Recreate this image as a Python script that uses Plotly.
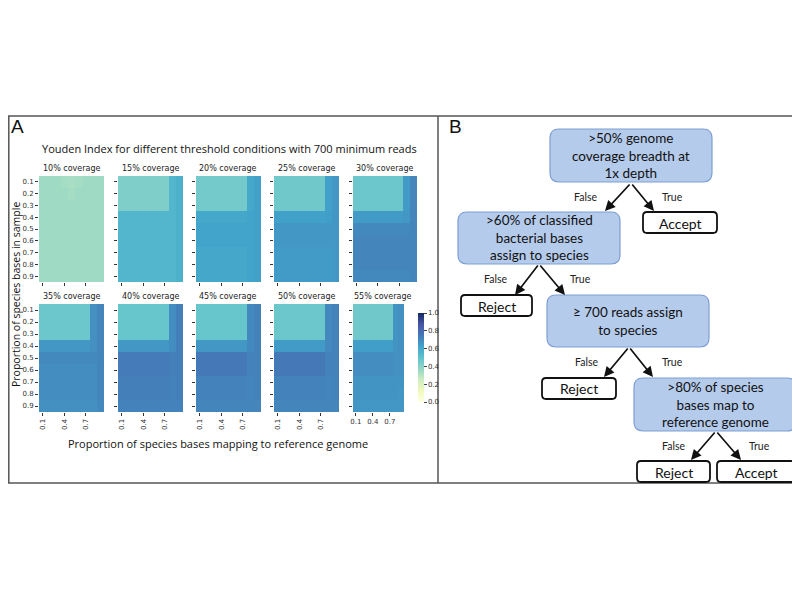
import plotly.graph_objects as go

# ---------------- data ----------------
props = [0.1, 0.2, 0.3, 0.4, 0.5, 0.6, 0.7, 0.8, 0.9]
x_ticks = [0.1, 0.4, 0.7]
y_ticks = [0.1, 0.2, 0.3, 0.4, 0.5, 0.6, 0.7, 0.8, 0.9]
coverage_labels = ["10% coverage", "15% coverage", "20% coverage", "25% coverage", "30% coverage",
                   "35% coverage", "40% coverage", "45% coverage", "50% coverage", "55% coverage"]

yi_10 = [
    [0.35, 0.35, 0.35, 0.34, 0.33, 0.34, 0.35, 0.35, 0.35],
    [0.35, 0.35, 0.35, 0.35, 0.34, 0.35, 0.35, 0.35, 0.35],
    [0.35, 0.35, 0.35, 0.35, 0.35, 0.35, 0.35, 0.35, 0.35],
    [0.35, 0.35, 0.35, 0.35, 0.35, 0.35, 0.35, 0.35, 0.35],
    [0.35, 0.35, 0.35, 0.35, 0.35, 0.35, 0.35, 0.35, 0.35],
    [0.35, 0.35, 0.35, 0.35, 0.35, 0.35, 0.35, 0.35, 0.35],
    [0.35, 0.35, 0.35, 0.35, 0.35, 0.35, 0.35, 0.35, 0.35],
    [0.35, 0.35, 0.35, 0.35, 0.35, 0.35, 0.35, 0.35, 0.35],
    [0.35, 0.35, 0.35, 0.35, 0.35, 0.35, 0.35, 0.35, 0.35],
]
yi_15 = [
    [0.42, 0.42, 0.42, 0.42, 0.42, 0.42, 0.42, 0.55, 0.57],
    [0.42, 0.42, 0.42, 0.42, 0.42, 0.42, 0.42, 0.55, 0.57],
    [0.42, 0.42, 0.42, 0.42, 0.42, 0.42, 0.42, 0.55, 0.57],
    [0.55, 0.55, 0.55, 0.55, 0.55, 0.55, 0.55, 0.55, 0.57],
    [0.55, 0.55, 0.55, 0.55, 0.55, 0.55, 0.55, 0.55, 0.57],
    [0.55, 0.55, 0.55, 0.55, 0.55, 0.55, 0.55, 0.55, 0.57],
    [0.55, 0.55, 0.55, 0.55, 0.55, 0.55, 0.55, 0.55, 0.57],
    [0.55, 0.55, 0.55, 0.55, 0.55, 0.55, 0.55, 0.55, 0.57],
    [0.55, 0.55, 0.55, 0.55, 0.55, 0.55, 0.55, 0.55, 0.57],
]
yi_20 = [
    [0.45, 0.45, 0.45, 0.45, 0.45, 0.45, 0.45, 0.61, 0.63],
    [0.45, 0.45, 0.45, 0.45, 0.45, 0.45, 0.45, 0.61, 0.63],
    [0.45, 0.45, 0.45, 0.45, 0.45, 0.45, 0.45, 0.61, 0.63],
    [0.61, 0.61, 0.61, 0.61, 0.61, 0.61, 0.61, 0.62, 0.63],
    [0.62, 0.62, 0.62, 0.62, 0.62, 0.62, 0.62, 0.62, 0.63],
    [0.62, 0.62, 0.62, 0.62, 0.62, 0.62, 0.62, 0.62, 0.63],
    [0.61, 0.61, 0.61, 0.61, 0.61, 0.61, 0.61, 0.62, 0.63],
    [0.61, 0.61, 0.61, 0.61, 0.61, 0.61, 0.61, 0.62, 0.63],
    [0.61, 0.61, 0.61, 0.61, 0.61, 0.61, 0.61, 0.62, 0.63],
]
yi_25 = [
    [0.46, 0.46, 0.46, 0.46, 0.46, 0.46, 0.46, 0.63, 0.66],
    [0.46, 0.46, 0.46, 0.46, 0.46, 0.46, 0.46, 0.63, 0.66],
    [0.46, 0.46, 0.46, 0.46, 0.46, 0.46, 0.46, 0.63, 0.66],
    [0.63, 0.63, 0.63, 0.63, 0.63, 0.63, 0.63, 0.64, 0.66],
    [0.66, 0.66, 0.66, 0.66, 0.66, 0.66, 0.66, 0.66, 0.66],
    [0.66, 0.66, 0.66, 0.66, 0.66, 0.66, 0.66, 0.66, 0.66],
    [0.65, 0.65, 0.65, 0.65, 0.65, 0.65, 0.65, 0.65, 0.66],
    [0.65, 0.65, 0.65, 0.65, 0.65, 0.65, 0.65, 0.65, 0.66],
    [0.65, 0.65, 0.65, 0.65, 0.65, 0.65, 0.65, 0.65, 0.66],
]
yi_30 = [
    [0.47, 0.47, 0.47, 0.47, 0.47, 0.47, 0.47, 0.65, 0.71],
    [0.47, 0.47, 0.47, 0.47, 0.47, 0.47, 0.47, 0.65, 0.71],
    [0.47, 0.47, 0.47, 0.47, 0.47, 0.47, 0.47, 0.65, 0.71],
    [0.65, 0.65, 0.65, 0.65, 0.65, 0.65, 0.65, 0.66, 0.71],
    [0.70, 0.70, 0.70, 0.70, 0.70, 0.70, 0.70, 0.70, 0.71],
    [0.71, 0.71, 0.71, 0.71, 0.71, 0.71, 0.71, 0.71, 0.71],
    [0.71, 0.71, 0.71, 0.71, 0.71, 0.71, 0.71, 0.71, 0.71],
    [0.71, 0.71, 0.71, 0.71, 0.71, 0.71, 0.71, 0.71, 0.71],
    [0.70, 0.70, 0.70, 0.70, 0.70, 0.70, 0.70, 0.70, 0.71],
]
yi_35 = [
    [0.47, 0.47, 0.47, 0.47, 0.47, 0.47, 0.47, 0.68, 0.71],
    [0.47, 0.47, 0.47, 0.47, 0.47, 0.47, 0.47, 0.68, 0.71],
    [0.47, 0.47, 0.47, 0.47, 0.47, 0.47, 0.47, 0.68, 0.71],
    [0.66, 0.66, 0.66, 0.66, 0.66, 0.66, 0.66, 0.68, 0.71],
    [0.70, 0.70, 0.70, 0.70, 0.70, 0.70, 0.70, 0.70, 0.71],
    [0.69, 0.69, 0.69, 0.69, 0.69, 0.69, 0.69, 0.69, 0.71],
    [0.69, 0.69, 0.69, 0.69, 0.69, 0.69, 0.69, 0.69, 0.71],
    [0.69, 0.69, 0.69, 0.69, 0.69, 0.69, 0.69, 0.69, 0.71],
    [0.68, 0.68, 0.68, 0.68, 0.68, 0.68, 0.68, 0.68, 0.70],
]
yi_40 = [
    [0.48, 0.48, 0.48, 0.48, 0.48, 0.48, 0.48, 0.69, 0.73],
    [0.48, 0.48, 0.48, 0.48, 0.48, 0.48, 0.48, 0.69, 0.73],
    [0.48, 0.48, 0.48, 0.48, 0.48, 0.48, 0.48, 0.69, 0.73],
    [0.66, 0.66, 0.66, 0.66, 0.66, 0.66, 0.66, 0.69, 0.73],
    [0.74, 0.74, 0.74, 0.74, 0.74, 0.74, 0.74, 0.73, 0.73],
    [0.74, 0.74, 0.74, 0.74, 0.74, 0.74, 0.74, 0.73, 0.73],
    [0.73, 0.73, 0.73, 0.73, 0.73, 0.73, 0.73, 0.72, 0.73],
    [0.73, 0.73, 0.73, 0.73, 0.73, 0.73, 0.73, 0.72, 0.73],
    [0.72, 0.72, 0.72, 0.72, 0.72, 0.72, 0.72, 0.72, 0.72],
]
yi_45 = [
    [0.48, 0.48, 0.48, 0.48, 0.48, 0.48, 0.48, 0.70, 0.72],
    [0.48, 0.48, 0.48, 0.48, 0.48, 0.48, 0.48, 0.70, 0.72],
    [0.48, 0.48, 0.48, 0.48, 0.48, 0.48, 0.48, 0.70, 0.72],
    [0.66, 0.66, 0.66, 0.66, 0.66, 0.66, 0.66, 0.70, 0.72],
    [0.75, 0.75, 0.75, 0.75, 0.75, 0.75, 0.75, 0.72, 0.72],
    [0.75, 0.75, 0.75, 0.75, 0.75, 0.75, 0.75, 0.72, 0.72],
    [0.72, 0.72, 0.72, 0.72, 0.72, 0.72, 0.72, 0.71, 0.72],
    [0.72, 0.72, 0.72, 0.72, 0.72, 0.72, 0.72, 0.71, 0.72],
    [0.71, 0.71, 0.71, 0.71, 0.71, 0.71, 0.71, 0.71, 0.71],
]
yi_50 = [
    [0.47, 0.47, 0.47, 0.47, 0.47, 0.47, 0.47, 0.70, 0.72],
    [0.47, 0.47, 0.47, 0.47, 0.47, 0.47, 0.47, 0.70, 0.72],
    [0.47, 0.47, 0.47, 0.47, 0.47, 0.47, 0.47, 0.70, 0.72],
    [0.65, 0.65, 0.65, 0.65, 0.65, 0.65, 0.65, 0.70, 0.72],
    [0.75, 0.75, 0.75, 0.75, 0.75, 0.75, 0.75, 0.72, 0.72],
    [0.75, 0.75, 0.75, 0.75, 0.75, 0.75, 0.75, 0.72, 0.72],
    [0.72, 0.72, 0.72, 0.72, 0.72, 0.72, 0.72, 0.71, 0.72],
    [0.72, 0.72, 0.72, 0.72, 0.72, 0.72, 0.72, 0.71, 0.72],
    [0.71, 0.71, 0.71, 0.71, 0.71, 0.71, 0.71, 0.71, 0.71],
]
yi_55 = [
    [0.46, 0.46, 0.46, 0.46, 0.46, 0.46, 0.46, 0.67, 0.68],
    [0.46, 0.46, 0.46, 0.46, 0.46, 0.46, 0.46, 0.67, 0.68],
    [0.46, 0.46, 0.46, 0.46, 0.46, 0.46, 0.46, 0.67, 0.68],
    [0.64, 0.64, 0.64, 0.64, 0.64, 0.64, 0.64, 0.67, 0.68],
    [0.69, 0.69, 0.69, 0.69, 0.69, 0.69, 0.69, 0.68, 0.68],
    [0.69, 0.69, 0.69, 0.69, 0.69, 0.69, 0.69, 0.68, 0.68],
    [0.67, 0.67, 0.67, 0.67, 0.67, 0.67, 0.67, 0.67, 0.67],
    [0.67, 0.67, 0.67, 0.67, 0.67, 0.67, 0.67, 0.67, 0.66],
    [0.66, 0.66, 0.66, 0.66, 0.66, 0.66, 0.66, 0.66, 0.66],
]
panels = [yi_10, yi_15, yi_20, yi_25, yi_30, yi_35, yi_40, yi_45, yi_50, yi_55]

cbar_ticks = [0.0, 0.2, 0.4, 0.6, 0.8, 1.0]

# ---------------- helpers ----------------
# page body has an 8px default margin; the figure is sized to fit the remaining window
OFF = 8
W, H = 792, 592
def X(px):
    return (px - OFF) / W
def Y(py):
    return 1 - (py - OFF) / H

def blend(hexc, a=0.16):
    hexc = hexc.lstrip('#')
    r, g, b = (int(hexc[i:i + 2], 16) for i in (0, 2, 4))
    r = round(r + (255 - r) * a); g = round(g + (255 - g) * a); b = round(b + (255 - b) * a)
    return f"rgb({r},{g},{b})"

ylgnbu = ["#ffffd9", "#edf8b1", "#c7e9b4", "#7fcdbb", "#41b6c4", "#1d91c0", "#225ea8", "#253494", "#081d58"]
cscale = [[i / 8, blend(c, 0.16 if i < 8 else 0.05)] for i, c in enumerate(ylgnbu)]

col_px = [(39, 104), (118, 183), (196, 261), (274, 339), (353, 417)]
row_px = [(176, 282), (304, 412)]

fig = go.Figure()
layout_axes = {}
annotations = []
shapes = []

tick_font = dict(family="DejaVu Sans", size=7, color="#333")

for k, z in enumerate(panels):
    r, c = divmod(k, 5)
    x0, x1 = col_px[c]
    if k == 9:
        x1 = 404
    y0, y1 = row_px[r]
    n = k + 1
    xa = "x" if n == 1 else f"x{n}"
    ya = "y" if n == 1 else f"y{n}"
    fig.add_trace(go.Heatmap(
        z=z, x=props, y=props, xaxis=xa, yaxis=ya,
        colorscale=cscale, zmin=0, zmax=1,
        showscale=(k == 9),
        colorbar=dict(
            x=X(408), xanchor="left", y=Y(303), yanchor="top",
            len=(412 - 303) / H, lenmode="fraction", thickness=6,
            outlinewidth=0, ticks="outside", ticklen=3, tickwidth=1,
            tickvals=cbar_ticks, ticktext=[f"{v:.1f}" for v in cbar_ticks],
            tickfont=tick_font,
        ) if k == 9 else None,
    ))
    xkey = "xaxis" if n == 1 else f"xaxis{n}"
    ykey = "yaxis" if n == 1 else f"yaxis{n}"
    layout_axes[xkey] = dict(
        domain=[X(x0), X(x1)], anchor=ya, range=[0.05, 0.95],
        tickvals=x_ticks, ticktext=[f"{v:.1f}" for v in x_ticks],
        ticks="outside", ticklen=3, tickwidth=1, tickcolor="#333",
        showticklabels=(r == 1), tickangle=(0 if k == 9 else -90),
        tickfont=tick_font, showgrid=False, zeroline=False, showline=False,
    )
    layout_axes[ykey] = dict(
        domain=[Y(y1), Y(y0)], anchor=xa, range=[0.95, 0.05],
        tickvals=y_ticks, ticktext=[f"{v:.1f}" for v in y_ticks],
        ticks="outside", ticklen=3, tickwidth=1, tickcolor="#333",
        showticklabels=(c == 0), tickfont=tick_font,
        showgrid=False, zeroline=False, showline=False,
    )
    annotations.append(dict(
        text=coverage_labels[k], x=X((x0 + col_px[c][1]) / 2 if k != 9 else (x0 + x1) / 2 + 4),
        y=Y(y0 - 1), xref="paper", yref="paper", showarrow=False,
        xanchor="center", yanchor="bottom",
        font=dict(family="DejaVu Sans", size=8, color="#222"),
    ))

# panel A texts
annotations += [
    dict(text="A", x=X(9), y=Y(126), xref="paper", yref="paper", showarrow=False,
         xanchor="left", yanchor="middle", font=dict(family="Liberation Sans", size=19, color="#111")),
    dict(text="Youden Index for different threshold conditions with 700 minimum reads",
         x=X(230), y=Y(148), xref="paper", yref="paper", showarrow=False,
         xanchor="center", yanchor="middle", font=dict(family="Open Sans", size=11, color="#111")),
    dict(text="Proportion of species bases mapping to reference genome",
         x=X(218), y=Y(443), xref="paper", yref="paper", showarrow=False,
         xanchor="center", yanchor="middle", font=dict(family="Open Sans", size=11, color="#111")),
    dict(text="Proportion of species bases in sample", textangle=-90,
         x=X(16), y=Y(295), xref="paper", yref="paper", showarrow=False,
         xanchor="center", yanchor="middle", font=dict(family="Open Sans", size=10.5, color="#111")),
    dict(text="B", x=X(447), y=Y(126), xref="paper", yref="paper", showarrow=False,
         xanchor="left", yanchor="middle", font=dict(family="Liberation Sans", size=19, color="#111")),
]

# frame
frame_col = "#555"
for (ax0, ay0, ax1, ay1) in [(8, 116, 797, 116), (8, 483, 797, 483), (8.8, 116, 8.8, 483),
                             (797, 116, 797, 483), (438, 116, 438, 483)]:
    shapes.append(dict(type="line", xref="paper", yref="paper", x0=X(ax0), y0=Y(ay0),
                       x1=X(ax1), y1=Y(ay1), line=dict(color=frame_col, width=1.5)))

def rrect(x0, y0, x1, y1, rad):
    p = (f"M {X(x0 + rad)},{Y(y0)} L {X(x1 - rad)},{Y(y0)} Q {X(x1)},{Y(y0)} {X(x1)},{Y(y0 + rad)} "
         f"L {X(x1)},{Y(y1 - rad)} Q {X(x1)},{Y(y1)} {X(x1 - rad)},{Y(y1)} "
         f"L {X(x0 + rad)},{Y(y1)} Q {X(x0)},{Y(y1)} {X(x0)},{Y(y1 - rad)} "
         f"L {X(x0)},{Y(y0 + rad)} Q {X(x0)},{Y(y0)} {X(x0 + rad)},{Y(y0)} Z")
    return p

flow_font = "Lato"
blue_boxes = [
    ((550, 129, 712, 182), "&gt;50% genome<br>coverage breadth at<br>1x depth"),
    ((458, 212, 620, 264), "&gt;60% of classified<br>bacterial bases<br>assign to species"),
    ((547, 295, 709, 347), "≥ 700 reads assign<br>to species"),
    ((634, 378, 796, 431), "&gt;80% of species<br>bases map to<br>reference genome"),
]
for (bx0, by0, bx1, by1), txt in blue_boxes:
    shapes.append(dict(type="path", xref="paper", yref="paper", path=rrect(bx0, by0, bx1, by1, 9),
                       fillcolor="#b5cbeb", line=dict(color="#7d9fd3", width=1.2)))
    annotations.append(dict(text=txt, x=X((bx0 + bx1) / 2), y=Y((by0 + by1) / 2), xref="paper", yref="paper",
                            showarrow=False, xanchor="center", yanchor="middle",
                            font=dict(family=flow_font, size=13.5, color="#111")))

white_boxes = [
    ((643, 212, 717, 233), "Accept"),
    ((461, 295, 532, 316), "Reject"),
    ((542, 378, 616, 399), "Reject"),
    ((637, 461, 710, 482), "Reject"),
    ((717, 461, 795, 482), "Accept"),
]
for (bx0, by0, bx1, by1), txt in white_boxes:
    shapes.append(dict(type="path", xref="paper", yref="paper", path=rrect(bx0, by0, bx1, by1, 4),
                       fillcolor="white", line=dict(color="#111", width=1.8)))
    annotations.append(dict(text=txt, x=X((bx0 + bx1) / 2), y=Y((by0 + by1) / 2 + 0.5), xref="paper", yref="paper",
                            showarrow=False, xanchor="center", yanchor="middle",
                            font=dict(family=flow_font, size=14, color="#111")))

# arrows: (tail, tip)
arrows = [
    ((631, 183), (605, 211)), ((631, 183), (654, 211)),
    ((539, 264), (515, 295)), ((539, 264), (565, 295)),
    ((629, 347), (604, 377)), ((629, 347), (653, 377)),
    ((716, 431), (691, 460)), ((716, 431), (741, 460)),
]
for (tx, ty), (hx, hy) in arrows:
    annotations.append(dict(x=X(hx), y=Y(hy), xref="paper", yref="paper", ax=tx - hx, ay=ty - hy,
                            axref="pixel", ayref="pixel", showarrow=True, arrowhead=2, arrowsize=1.2,
                            arrowwidth=1.7, arrowcolor="#111", text=""))

tf_labels = [
    ("False", 585, 197), ("True", 672, 197),
    ("False", 495, 279), ("True", 580, 279),
    ("False", 586, 362), ("True", 672, 362),
    ("False", 673, 446), ("True", 759, 446),
]
for txt, lx, ly in tf_labels:
    annotations.append(dict(text=txt, x=X(lx), y=Y(ly), xref="paper", yref="paper", showarrow=False,
                            xanchor="center", yanchor="middle",
                            font=dict(family=flow_font, size=10.5, color="#222")))

fig.update_layout(
    width=W, height=H, margin=dict(l=0, r=0, t=0, b=0, pad=0, autoexpand=False),
    paper_bgcolor="white", plot_bgcolor="white",
    showlegend=False, annotations=annotations, shapes=shapes,
    **layout_axes,
)

fig.write_html("out.html")
